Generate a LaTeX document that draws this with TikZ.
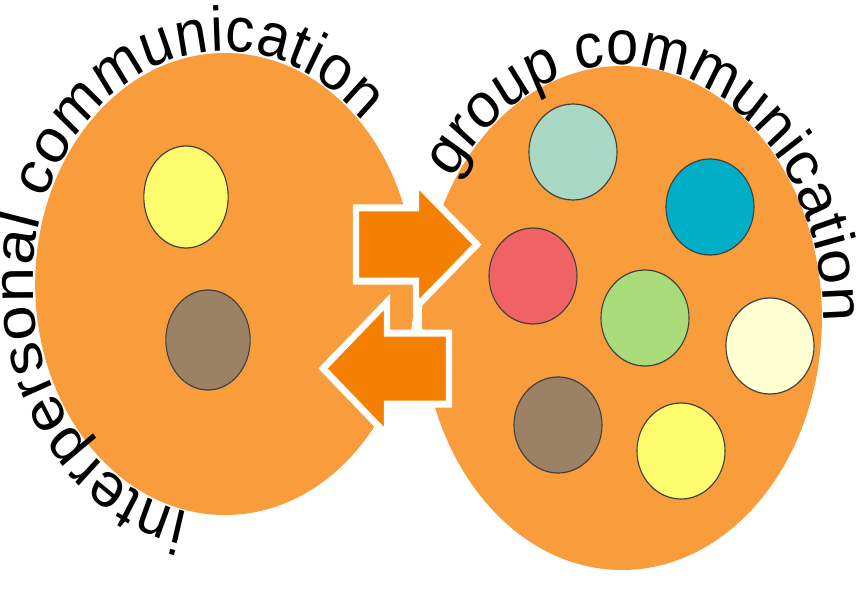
\documentclass[tikz,border=0pt]{standalone}
\usepackage{fontspec}
\usetikzlibrary{shapes.geometric,decorations.text}
\newfontfamily\labelfamily{Liberation Sans}
\newcommand\arcfont{\labelfamily\fontsize{63}{76}\selectfont}
\definecolor{bloborange}{HTML}{F89C3C}
\definecolor{arroworange}{HTML}{F47F00}
\definecolor{dotyellow}{HTML}{FCFC6C}
\definecolor{dotbrown}{HTML}{9B8264}
\definecolor{dotmint}{HTML}{A9D9C5}
\definecolor{dotteal}{HTML}{00AEC7}
\definecolor{dotred}{HTML}{F16265}
\definecolor{dotgreen}{HTML}{A9DB7B}
\definecolor{dotcream}{HTML}{FFFFD1}
\begin{document}
\begin{tikzpicture}[x=1pt,y=1pt,
  blob/.style={ellipse,fill=bloborange,inner sep=0pt},
  dot/.style={ellipse,draw=black!75,line width=1.2pt,inner sep=0pt,minimum width=96pt,minimum height=96pt},
  bigarrow/.style={fill=arroworange,draw=white,line width=7pt},
  arclabel/.style={decorate,decoration={text along path,text align=fit to path,text={|\arcfont|#1}}}]

\useasboundingbox (0,0) rectangle (860,-607);

% the whole drawing is a bit narrower than it is tall
\begin{scope}[transform canvas={xscale=0.917},x=1.0905pt]

% the two groups
\node[blob,minimum width=414pt,minimum height=462pt] (inter) at (225,-284) {};
\node[blob,minimum width=436pt,minimum height=504pt] (group) at (622,-318) {};

% two people
\node[dot,fill=dotyellow,minimum width=92pt,minimum height=102pt] (i1) at (186,-197) {};
\node[dot,fill=dotbrown,minimum width=92pt,minimum height=100pt] (i2) at (208,-340) {};

% many people
\node[dot,fill=dotmint] (g1) at (573,-152) {};
\node[dot,fill=dotteal] (g2) at (710,-207) {};
\node[dot,fill=dotred] (g3) at (533,-276) {};
\node[dot,fill=dotgreen] (g4) at (645,-318) {};
\node[dot,fill=dotcream] (g5) at (770,-346) {};
\node[dot,fill=dotbrown] (g6) at (558,-425) {};
\node[dot,fill=dotyellow] (g7) at (681,-451) {};

% exchange arrows
\filldraw[bigarrow] (356,-208) -- (416,-208) -- (416,-182) -- (477,-244.5) -- (416,-307) -- (416,-281) -- (356,-281) -- cycle;
\filldraw[bigarrow] (449,-333) -- (387,-333) -- (387,-302) -- (323,-368.5) -- (387,-435) -- (387,-404) -- (449,-404) -- cycle;

% labels round the groups
\path[arclabel=interpersonal communication] (inter.center) ++(259:192 and 233) arc[start angle=259,end angle=44,x radius=192,y radius=233];
\path[arclabel=group communication] (group.center) ++(147:201 and 253) arc[start angle=147,end angle=-1,x radius=201,y radius=253];

\end{scope}
\end{tikzpicture}
\end{document}
